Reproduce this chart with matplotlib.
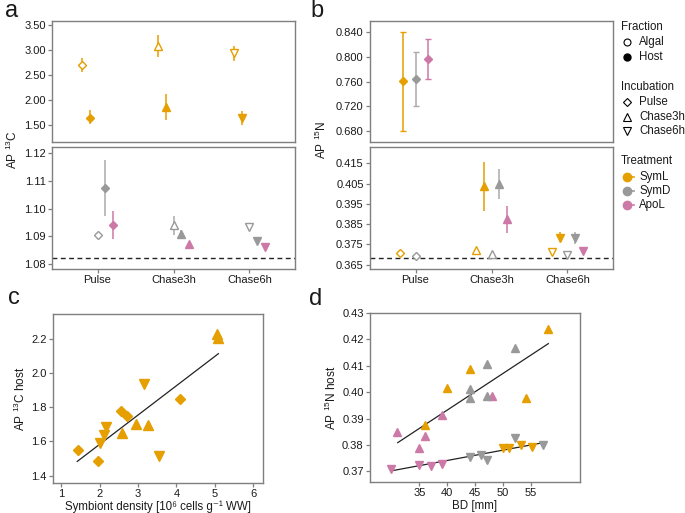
import numpy as np
import matplotlib
matplotlib.use("Agg")
import matplotlib.pyplot as plt
from matplotlib.lines import Line2D
from matplotlib.ticker import FormatStrFormatter

plt.rcParams['font.family'] = ['Liberation Sans', 'DejaVu Sans']
plt.rcParams['mathtext.fontset'] = 'custom'
plt.rcParams['mathtext.rm'] = 'Liberation Sans'
plt.rcParams['mathtext.default'] = 'regular'

# ---- data ----
incubations = ['Pulse', 'Chase3h', 'Chase6h']
treat_colors = {'SymL': '#E69F00', 'SymD': '#999999', 'ApoL': '#CC79A7'}
inc_markers = {'Pulse': 'D', 'Chase3h': '^', 'Chase6h': 'v'}

# panel a: AP 13C
a_incub = ['Pulse', 'Pulse', 'Chase3h', 'Chase3h', 'Chase6h', 'Chase6h',
           'Pulse', 'Pulse', 'Pulse', 'Chase3h', 'Chase3h', 'Chase3h',
           'Chase6h', 'Chase6h', 'Chase6h']
a_treat = ['SymL', 'SymL', 'SymL', 'SymL', 'SymL', 'SymL',
           'SymD', 'SymD', 'ApoL', 'SymD', 'SymD', 'ApoL',
           'SymD', 'SymD', 'ApoL']
a_frac = ['Algal', 'Host', 'Algal', 'Host', 'Algal', 'Host',
          'Algal', 'Host', 'Host', 'Algal', 'Host', 'Host',
          'Algal', 'Host', 'Host']
a_mean = [2.70, 1.65, 3.08, 1.86, 2.95, 1.64,
          1.0904, 1.1074, 1.0940, 1.0939, 1.0907, 1.0870,
          1.0933, 1.0882, 1.0862]
a_lo = [2.57, 1.52, 2.86, 1.60, 2.78, 1.50,
        np.nan, 1.0973, 1.0888, 1.0904, 1.0890, np.nan,
        np.nan, np.nan, np.nan]
a_hi = [2.85, 1.80, 3.30, 2.12, 3.09, 1.79,
        np.nan, 1.1176, 1.0992, 1.0973, 1.0922, np.nan,
        np.nan, np.nan, np.nan]
a_baseline = 1.082

# panel b: AP 15N
b_incub = ['Pulse', 'Pulse', 'Pulse', 'Pulse', 'Pulse',
           'Chase3h', 'Chase3h', 'Chase3h', 'Chase3h', 'Chase3h',
           'Chase6h', 'Chase6h', 'Chase6h', 'Chase6h', 'Chase6h']
b_treat = ['SymL', 'SymD', 'ApoL', 'SymL', 'SymD',
           'SymL', 'SymL', 'SymD', 'SymD', 'ApoL',
           'SymL', 'SymL', 'SymD', 'SymD', 'ApoL']
b_frac = ['Host', 'Host', 'Host', 'Algal', 'Algal',
          'Algal', 'Host', 'Algal', 'Host', 'Host',
          'Algal', 'Host', 'Algal', 'Host', 'Host']
b_mean = [0.7603, 0.7640, 0.7970, 0.3706, 0.3693,
          0.3723, 0.4038, 0.3701, 0.4049, 0.3875,
          0.3714, 0.3783, 0.3697, 0.3781, 0.3716]
b_lo = [0.680, 0.720, 0.7645, np.nan, np.nan,
        np.nan, 0.3916, np.nan, 0.3972, 0.3808,
        np.nan, 0.3760, np.nan, 0.3754, np.nan]
b_hi = [0.840, 0.808, 0.8296, np.nan, np.nan,
        np.nan, 0.4155, np.nan, 0.4120, 0.3939,
        np.nan, 0.3809, np.nan, 0.3809, np.nan]
b_baseline = 0.3685

# panel c: AP 13C host vs symbiont density (SymL)
c_density = [1.45, 1.95, 2.56, 2.71, 4.09,
             2.01, 2.11, 2.17, 3.16, 3.55,
             2.59, 2.94, 3.25, 5.06, 5.09]
c_ap = [1.549, 1.485, 1.777, 1.748, 1.851,
        1.588, 1.638, 1.684, 1.933, 1.516,
        1.648, 1.704, 1.694, 2.227, 2.204]
c_incub = ['Pulse'] * 5 + ['Chase6h'] * 5 + ['Chase3h'] * 5
c_fit_x = [1.42, 5.09]
c_fit_y = [1.483, 2.113]

# panel d: AP 15N host vs BD
d_bd = [30.95, 35.0, 36.0, 39.0, 48.07,
        36.0, 40.0, 44.02, 54.1, 58.1,
        44.0, 44.0, 47.07, 47.07, 52.1,
        29.93, 35.0, 37.04, 39.0,
        44.0, 46.05, 47.07, 52.1, 57.1,
        50.04, 51.06, 53.15, 55.1]
d_ap = [0.3851, 0.3787, 0.3833, 0.3912, 0.3985,
        0.3874, 0.4016, 0.4089, 0.3977, 0.4241,
        0.4013, 0.3979, 0.4105, 0.3984, 0.4169,
        0.3710, 0.3724, 0.3720, 0.3730,
        0.3755, 0.3763, 0.3745, 0.3826, 0.3799,
        0.3787, 0.3790, 0.3802, 0.3794]
d_treat = (['ApoL'] * 5 + ['SymL'] * 5 + ['SymD'] * 5 +
           ['ApoL'] * 4 + ['SymD'] * 5 + ['SymL'] * 4)
d_incub = ['Chase3h'] * 15 + ['Chase6h'] * 13
d_fit3_x = [31.13, 58.1]
d_fit3_y = [0.3809, 0.4184]
d_fit6_x = [29.93, 57.2]
d_fit6_y = [0.3702, 0.3809]

# ---- styling helpers ----
FRAME = '#7f7f7f'
TXT = '#1a1a1a'
dodge = {('SymL', 'Algal'): -0.2, ('SymL', 'Host'): -0.1,
         ('SymD', 'Algal'): 0.0, ('SymD', 'Host'): 0.1, ('ApoL', 'Host'): 0.2}


def style_ax(ax):
    for s in ax.spines.values():
        s.set_color(FRAME)
        s.set_linewidth(1.0)
    ax.tick_params(colors=FRAME, labelcolor=TXT, labelsize=8, length=3, width=0.9,
                   pad=1.5)


def draw_points(ax, incub, treat, frac, mean, lo, hi, sel, capsize=0, dodge_map=None):
    for i in range(len(mean)):
        if not sel(mean[i]):
            continue
        col = treat_colors[treat[i]]
        off = dodge_map[treat[i]] if dodge_map else dodge[(treat[i], frac[i])]
        x = incubations.index(incub[i]) + off
        m = inc_markers[incub[i]]
        ms = 4.5 if m == 'D' else 6
        if not np.isnan(lo[i]):
            ecol = '#aaaaaa' if treat[i] == 'SymD' else col
            ax.errorbar(x, mean[i], yerr=[[mean[i] - lo[i]], [hi[i] - mean[i]]],
                        fmt='none', ecolor=ecol, elinewidth=1.1, capsize=capsize,
                        capthick=1.0, zorder=2)
        face = col if frac[i] == 'Host' else 'white'
        ax.plot(x, mean[i], linestyle='none', marker=m, ms=ms, mfc=face,
                mec=col, mew=1.0, zorder=3)


fig = plt.figure(figsize=(6.85, 5.13), dpi=100)

W, H = 685, 513


def axes_px(l, t, r, b):
    return fig.add_axes([l / W, 1 - b / H, (r - l) / W, (b - t) / H])


# ---- panel a ----
ax_at = axes_px(52, 21, 295, 142)
ax_ab = axes_px(52, 147, 295, 269)
draw_points(ax_at, a_incub, a_treat, a_frac, a_mean, a_lo, a_hi, lambda v: v > 1.3)
draw_points(ax_ab, a_incub, a_treat, a_frac, a_mean, a_lo, a_hi, lambda v: v < 1.3)
ax_ab.axhline(a_baseline, color='#222222', ls='--', lw=1.0, dashes=(3.5, 2.5))
ax_at.set_ylim(1.16, 3.58)
ax_at.set_yticks([1.5, 2.0, 2.5, 3.0, 3.5])
ax_at.yaxis.set_major_formatter(FormatStrFormatter('%.2f'))
ax_ab.set_ylim(1.0781, 1.1223)
ax_ab.set_yticks([1.08, 1.09, 1.10, 1.11, 1.12])
ax_ab.yaxis.set_major_formatter(FormatStrFormatter('%.2f'))

# ---- panel b ----
ax_bt = axes_px(370, 21, 613, 142)
ax_bb = axes_px(370, 147, 613, 269)
draw_points(ax_bt, b_incub, b_treat, b_frac, b_mean, b_lo, b_hi, lambda v: v > 0.5,
            capsize=2, dodge_map={'SymL': -0.17, 'SymD': 0.0, 'ApoL': 0.17})
draw_points(ax_bb, b_incub, b_treat, b_frac, b_mean, b_lo, b_hi, lambda v: v < 0.5)
ax_bb.axhline(b_baseline, color='#222222', ls='--', lw=1.0, dashes=(3.5, 2.5))
ax_bt.set_ylim(0.6616, 0.8584)
ax_bt.set_yticks([0.68, 0.72, 0.76, 0.80, 0.84])
ax_bt.yaxis.set_major_formatter(FormatStrFormatter('%.3f'))
ax_bb.set_ylim(0.3629, 0.4230)
ax_bb.set_yticks([0.365, 0.375, 0.385, 0.395, 0.405, 0.415])
ax_bb.yaxis.set_major_formatter(FormatStrFormatter('%.3f'))

for ax in (ax_at, ax_ab, ax_bt, ax_bb):
    ax.set_xlim(-0.6, 2.6)
    style_ax(ax)
for ax in (ax_at, ax_bt):
    ax.set_xticks([])
for ax in (ax_ab, ax_bb):
    ax.set_xticks(range(len(incubations)))
    ax.set_xticklabels(incubations)

fig.text(12 / W, 1 - 150 / H, r'AP $^{13}$C', rotation=90, ha='center', va='center',
         fontsize=8.5, color=TXT)
fig.text(321 / W, 1 - 140 / H, r'AP $^{15}$N', rotation=90, ha='center', va='center',
         fontsize=8.5, color=TXT)

# ---- panel c ----
ax_c = axes_px(53, 314, 263, 483)
col = treat_colors['SymL']
for x, y, inc in zip(c_density, c_ap, c_incub):
    m = inc_markers[inc]
    ax_c.plot(x, y, linestyle='none', marker=m, ms=5.2 if m == 'D' else 7.5,
              color=col, mec=col, zorder=3)
ax_c.plot(c_fit_x, c_fit_y, color='#222222', lw=0.9, zorder=2)
ax_c.set_xlim(0.79, 6.25)
ax_c.set_ylim(1.357, 2.345)
ax_c.set_xticks([1, 2, 3, 4, 5, 6])
ax_c.set_yticks([1.4, 1.6, 1.8, 2.0, 2.2])
ax_c.yaxis.set_major_formatter(FormatStrFormatter('%.1f'))
ax_c.set_ylabel(r'AP $^{13}$C host', fontsize=8.5, color=TXT, labelpad=2)
style_ax(ax_c)
fig.text(158 / W, 1 - 507 / H, 'Symbiont density [10⁶ cells g⁻¹ WW]', fontsize=8.3,
         ha='center', va='center', color=TXT)

# ---- panel d ----
ax_d = axes_px(370, 313, 580, 482)
for x, y, tr, inc in zip(d_bd, d_ap, d_treat, d_incub):
    ax_d.plot(x, y, linestyle='none', marker=inc_markers[inc], ms=5.5,
              color=treat_colors[tr], zorder=3)
ax_d.plot(d_fit3_x, d_fit3_y, color='#222222', lw=0.9, zorder=2)
ax_d.plot(d_fit6_x, d_fit6_y, color='#222222', lw=0.9, zorder=2)
ax_d.set_xlim(26.17, 63.77)
ax_d.set_ylim(0.366, 0.430)
ax_d.set_xticks([35, 40, 45, 50, 55])
ax_d.set_yticks([0.37, 0.38, 0.39, 0.40, 0.41, 0.42, 0.43])
ax_d.yaxis.set_major_formatter(FormatStrFormatter('%.2f'))
ax_d.set_ylabel(r'AP $^{15}$N host', fontsize=8.5, color=TXT, labelpad=2)
style_ax(ax_d)
fig.text(475 / W, 1 - 506 / H, 'BD [mm]', fontsize=8.3, ha='center', va='center',
         color=TXT)

# ---- panel letters ----
for lab, (px, py) in zip('abcd', [(12, 11), (317, 11), (14, 298), (316, 299)]):
    fig.text(px / W, 1 - py / H, lab, fontsize=17, ha='center', va='center', color=TXT)

# ---- legend ----
def leg_title(txt, py):
    fig.text(621 / W, 1 - py / H, txt, fontsize=8.3, ha='left', va='center', color=TXT)


def leg_item(txt, py, **kw):
    fig.add_artist(Line2D([627 / W], [1 - py / H], transform=fig.transFigure,
                          linestyle='none', **kw))
    fig.text(639 / W, 1 - py / H, txt, fontsize=8.3, ha='left', va='center', color=TXT)


leg_title('Fraction', 27)
leg_item('Algal', 42, marker='o', ms=5, mfc='white', mec='black', mew=0.8)
leg_item('Host', 57, marker='o', ms=5, mfc='black', mec='black')
leg_title('Incubation', 87)
leg_item('Pulse', 102, marker='D', ms=4.5, mfc='white', mec='black', mew=0.8)
leg_item('Chase3h', 117, marker='^', ms=6, mfc='white', mec='black', mew=0.8)
leg_item('Chase6h', 131, marker='v', ms=6, mfc='white', mec='black', mew=0.8)
leg_title('Treatment', 161)
for name, py in zip(['SymL', 'SymD', 'ApoL'], [177, 191, 205]):
    c = treat_colors[name]
    fig.add_artist(Line2D([627 / W, 634 / W], [1 - py / H, 1 - py / H],
                          transform=fig.transFigure, color=c, lw=1.2))
    leg_item(name, py, marker='o', ms=6, color=c)

fig.savefig('out.png', dpi=100)
